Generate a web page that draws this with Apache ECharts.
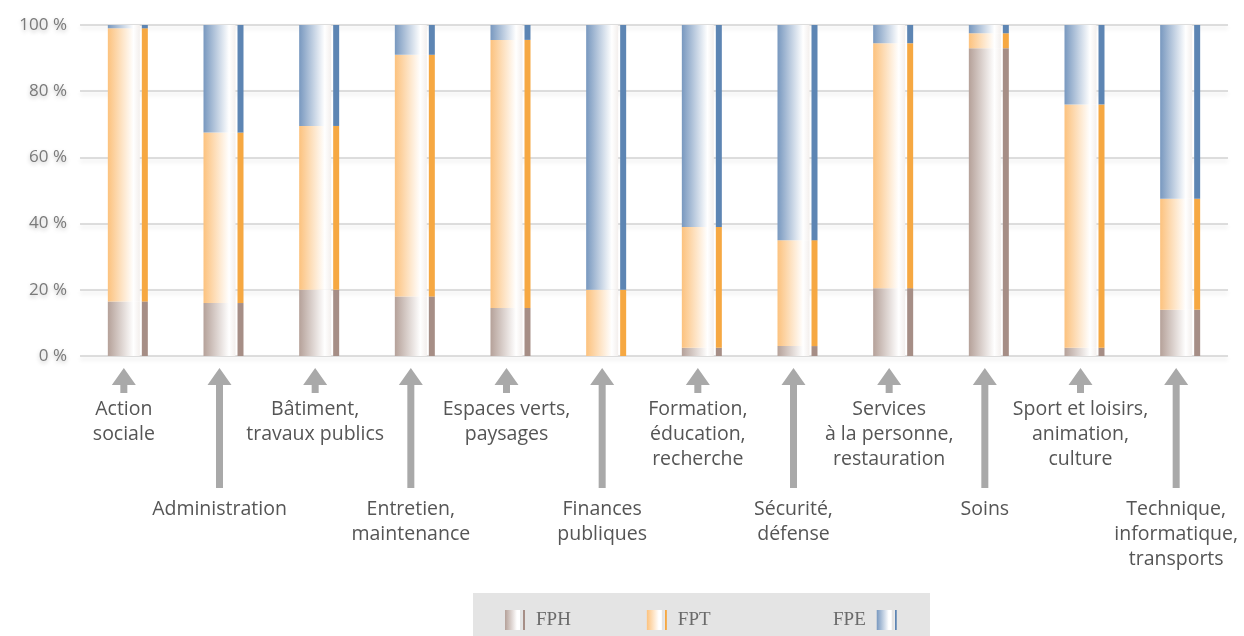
<!DOCTYPE html>
<html>
<head>
<meta charset="utf-8">
<script src="https://cdn.jsdelivr.net/npm/echarts@6/dist/echarts.min.js"></script>
<style>
  html, body { margin: 0; padding: 0; background: #fff; }
  #chart { width: 1244px; height: 636px; }
</style>
</head>
<body>
<div id="chart"></div>
<script>
// --- 数据 ---
const categories = [
  'Action\nsociale', 'Administration', 'Bâtiment,\ntravaux publics', 'Entretien,\nmaintenance',
  'Espaces verts,\npaysages', 'Finances\npubliques', 'Formation,\néducation,\nrecherche',
  'Sécurité,\ndéfense', 'Services\nà la personne,\nrestauration', 'Soins',
  'Sport et loisirs,\nanimation,\nculture', 'Technique,\ninformatique,\ntransports'
];
const fph = [16.5, 16, 20, 18, 14.5, 0, 2.5, 3, 20.5, 93, 2.5, 14];
const fpt = [82.5, 51.5, 49.5, 73, 81, 20, 36.5, 32, 74, 4.5, 73.5, 33.5];
const fpe = [1, 32.5, 30.5, 9, 4.5, 80, 61, 65, 5.5, 2.5, 24, 52.5];
const yTicks = [0, 20, 40, 60, 80, 100];

// 配色
const COLORS = {
  fph: { light: '#b5a199', stripe: '#a68e86' },
  fpt: { light: '#fcc27e', stripe: '#f6a842' },
  fpe: { light: '#7898bf', stripe: '#5d85b3' },
  grid: '#d2d2d2',
  text: '#555555',
  arrow: '#a9a9a9'
};

const BAR_W = 32;
const STRIPE_W = 6;
const GAP = 2;

const grad = (c) => new echarts.graphic.LinearGradient(0, 0, 1, 0, [
  { offset: 0, color: c },
  { offset: 0.8, color: '#ffffff' },
  { offset: 1, color: '#f3efed' }
]);

// 图例图标: 渐变主柱 + 深色细条
const legendGrad = (col) => new echarts.graphic.LinearGradient(0, 0, 1, 0, [
  { offset: 0, color: col.light },
  { offset: 0.6, color: '#ffffff' },
  { offset: 0.89, color: '#ffffff' },
  { offset: 0.9, color: col.stripe },
  { offset: 1, color: col.stripe }
]);

const mainSeries = (name, data, col) => ({
  name, type: 'bar', stack: 'main', data,
  barWidth: BAR_W, barGap: GAP / BAR_W,
  itemStyle: { color: grad(col.light) },
  emphasis: { disabled: true }
});
const stripeSeries = (name, data, col) => ({
  name, type: 'bar', stack: 'stripe', data,
  barWidth: STRIPE_W,
  itemStyle: { color: col.stripe },
  emphasis: { disabled: true }
});

const chart = echarts.init(document.getElementById('chart'));

const legendText = { fontFamily: 'Liberation Serif', fontSize: 19, color: '#6a6a6a' };
const iconPath = 'path://M0,0H15V20H0Z M18,0H20V20H18Z';

chart.setOption({
  animation: false,
  backgroundColor: '#fff',
  grid: { left: 80, right: 16, top: 25, bottom: 280, outerBoundsMode: 'none', containLabel: false },
  legend: [
    {
      data: [
        { name: 'FPH', itemStyle: { color: legendGrad(COLORS.fph) } },
        { name: 'FPT', itemStyle: { color: legendGrad(COLORS.fpt) } }
      ],
      left: 500, top: 605, itemGap: 76,
      itemWidth: 22, itemHeight: 20, icon: iconPath,
      textStyle: { ...legendText, padding: [0, 0, 0, 5] },
      selectedMode: false
    },
    {
      data: [{ name: 'FPE', itemStyle: { color: legendGrad(COLORS.fpe) } }],
      left: 828, top: 605, align: 'right',
      itemWidth: 22, itemHeight: 20, icon: iconPath,
      textStyle: { ...legendText, padding: [0, 5, 0, 0] },
      selectedMode: false
    }
  ],
  xAxis: {
    type: 'category',
    data: categories,
    axisLine: { show: false },
    axisTick: { show: false },
    axisLabel: {
      interval: 0,
      margin: 41,
      lineHeight: 25,
      fontFamily: 'Open Sans',
      fontSize: 19.5,
      color: COLORS.text,
      padding: [0, 8, 0, 0],
      formatter: (v, i) => (i % 2 === 1 ? '\n\n\n\n' : '') + v
    }
  },
  yAxis: {
    type: 'value',
    min: 0, max: 100, interval: 20,
    axisLine: { show: false },
    axisTick: { show: false },
    splitLine: {
      lineStyle: {
        color: COLORS.grid, width: 1.5,
        shadowColor: 'rgba(0,0,0,0.12)', shadowBlur: 4, shadowOffsetY: 3
      }
    },
    axisLabel: {
      margin: 13,
      fontFamily: 'Open Sans', fontSize: 17, color: '#7a7a7a',
      textShadowColor: 'rgba(0,0,0,0.25)', textShadowBlur: 4, textShadowOffsetY: 2,
      formatter: (v) => yTicks.includes(v) ? v + ' %' : ''
    }
  },
  series: [
    mainSeries('FPH', fph, COLORS.fph),
    mainSeries('FPT', fpt, COLORS.fpt),
    mainSeries('FPE', fpe, COLORS.fpe),
    stripeSeries('FPH', fph, COLORS.fph),
    stripeSeries('FPT', fpt, COLORS.fpt),
    stripeSeries('FPE', fpe, COLORS.fpe)
  ]
});

// --- 箭头 (放在主柱中心下方) ---
const shift = (BAR_W + GAP + STRIPE_W) / 2 - BAR_W / 2;
const y0 = chart.convertToPixel({ yAxisIndex: 0 }, 0);
const arrows = categories.map((c, i) => {
  const x = chart.convertToPixel({ xAxisIndex: 0 }, c) - shift;
  const top = y0 + 12;
  const neck = top + 17;
  const end = i % 2 === 1 ? y0 + 132 : y0 + 37;
  return {
    type: 'polygon',
    silent: true,
    shape: {
      points: [
        [x - 3.5, end], [x - 3.5, neck], [x - 12, neck], [x, top],
        [x + 12, neck], [x + 3.5, neck], [x + 3.5, end]
      ]
    },
    style: { fill: COLORS.arrow }
  };
});

chart.setOption({
  graphic: [
    {
      type: 'rect', silent: true, z: -1,
      shape: { x: 473, y: 593, width: 457, height: 50 },
      style: { fill: '#e4e4e4' }
    },
    ...arrows
  ]
});
</script>
</body>
</html>
